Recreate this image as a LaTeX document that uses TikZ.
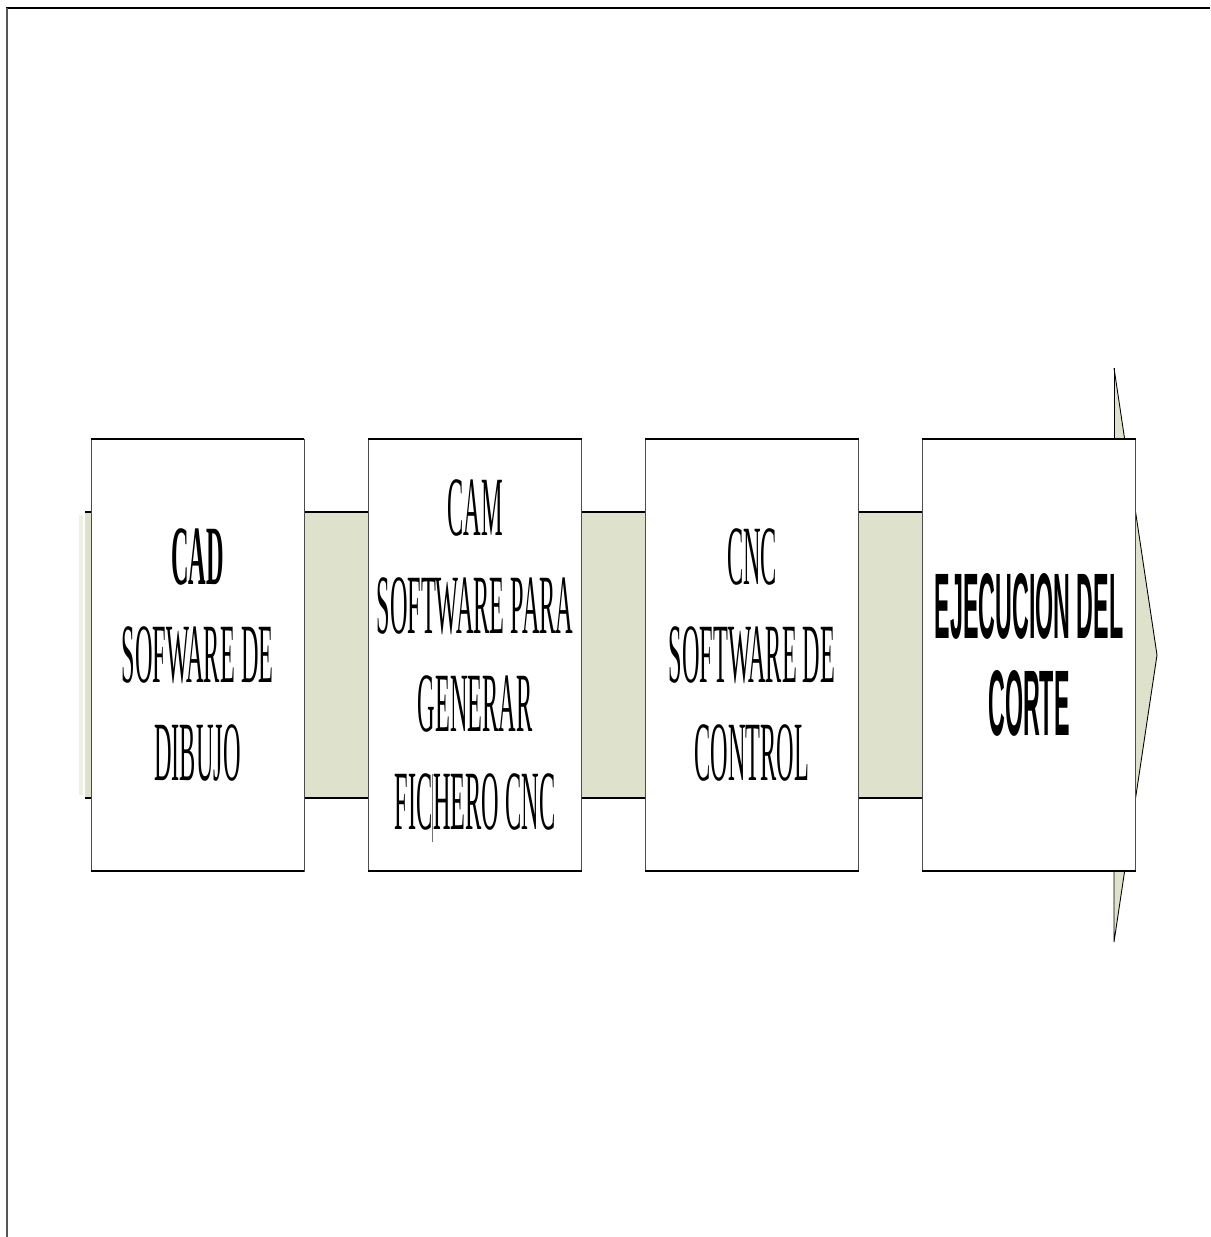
\documentclass[tikz,border=0pt]{standalone}
\usepackage{fontspec}
\usepackage{xcolor}
\usepackage{tikz}
\newfontfamily\narrowserif[FakeStretch=0.288]{Liberation Serif}
\newfontfamily\narrowsans[FakeStretch=0.25]{Liberation Sans}
\definecolor{BandOlive}{HTML}{DEE1CB}
\definecolor{BandShade}{HTML}{EEF0E3}
\definecolor{FrameGrey}{HTML}{555555}

\begin{document}
\begin{tikzpicture}[x=0.02cm, y=-0.02cm]

    \tikzstyle{box}=[
      draw=black!70,
      line width=0.5pt,
      fill=white,
      align=center,
      inner sep=2pt,
      minimum width=4.26cm,
      minimum height=8.64cm
    ]
    \tikzstyle{serif}=[font=\narrowserif\fontsize{48}{55.6}\selectfont]
    \tikzstyle{sans}=[font=\narrowsans\bfseries\fontsize{53}{55}\selectfont]
    \tikzstyle{edge}=[line width=1.1pt, color=black]

    \useasboundingbox (0,0) rectangle (1210,1237);

    % --- Page frame ---
    \draw[line width=1.7pt] (6,8) -- (1210,8);
    \draw[FrameGrey, line width=0.9pt] (7,8) -- (7,1237);

    % --- Big arrow behind the boxes ---
    \coordinate (tailtop) at (85,512);
    \coordinate (tailbot) at (85,798);
    \coordinate (neckt) at (1114,512);
    \coordinate (neckb) at (1114,798);
    \coordinate (barbt) at (1114,368);
    \coordinate (barbb) at (1114,942);
    \coordinate (tip) at (1157,655);
    \fill[BandShade] (79,515) rectangle (83,795);
    \fill[BandOlive] (tailtop) -- (neckt) -- (barbt) -- (tip) -- (barbb)
      -- (neckb) -- (tailbot) -- cycle;
    \draw[line width=0.5pt] (barbt) -- (tip) -- (barbb) -- (neckb);
    \draw[line width=0.5pt] (neckt) -- (barbt);
    \draw[edge] (tailtop) -- (neckt);
    \draw[edge] (tailbot) -- (neckb);

    % --- Boxes ---
    \node[box, serif] (cad) at (197.5,655) {\textbf{CAD}\\ SOFWARE DE\\ DIBUJO};
    \node[box, serif] (cam) at (475,655) {CAM\\ SOFTWARE PARA\\ GENERAR\\
      FIC\smash{\textcolor{black!55}{\rule[-0.26cm]{0.5pt}{1.36cm}}}HERO CNC};
    \node[box, serif] (cnc) at (752,655) {CNC\\ SOFTWARE DE\\ CONTROL};
    \node[box, sans] (corte) at (1029,655) {EJECUCION DEL\\ CORTE};

    % --- Heavier top and bottom edges ---
    \draw[edge] (cad.north west) -- (cad.north east) (cad.south west) -- (cad.south east);
    \draw[edge] (cam.north west) -- (cam.north east) (cam.south west) -- (cam.south east);
    \draw[edge] (cnc.north west) -- (cnc.north east) (cnc.south west) -- (cnc.south east);
    \draw[edge] (corte.north west) -- (corte.north east) (corte.south west) -- (corte.south east);

  \end{tikzpicture}
\end{document}
